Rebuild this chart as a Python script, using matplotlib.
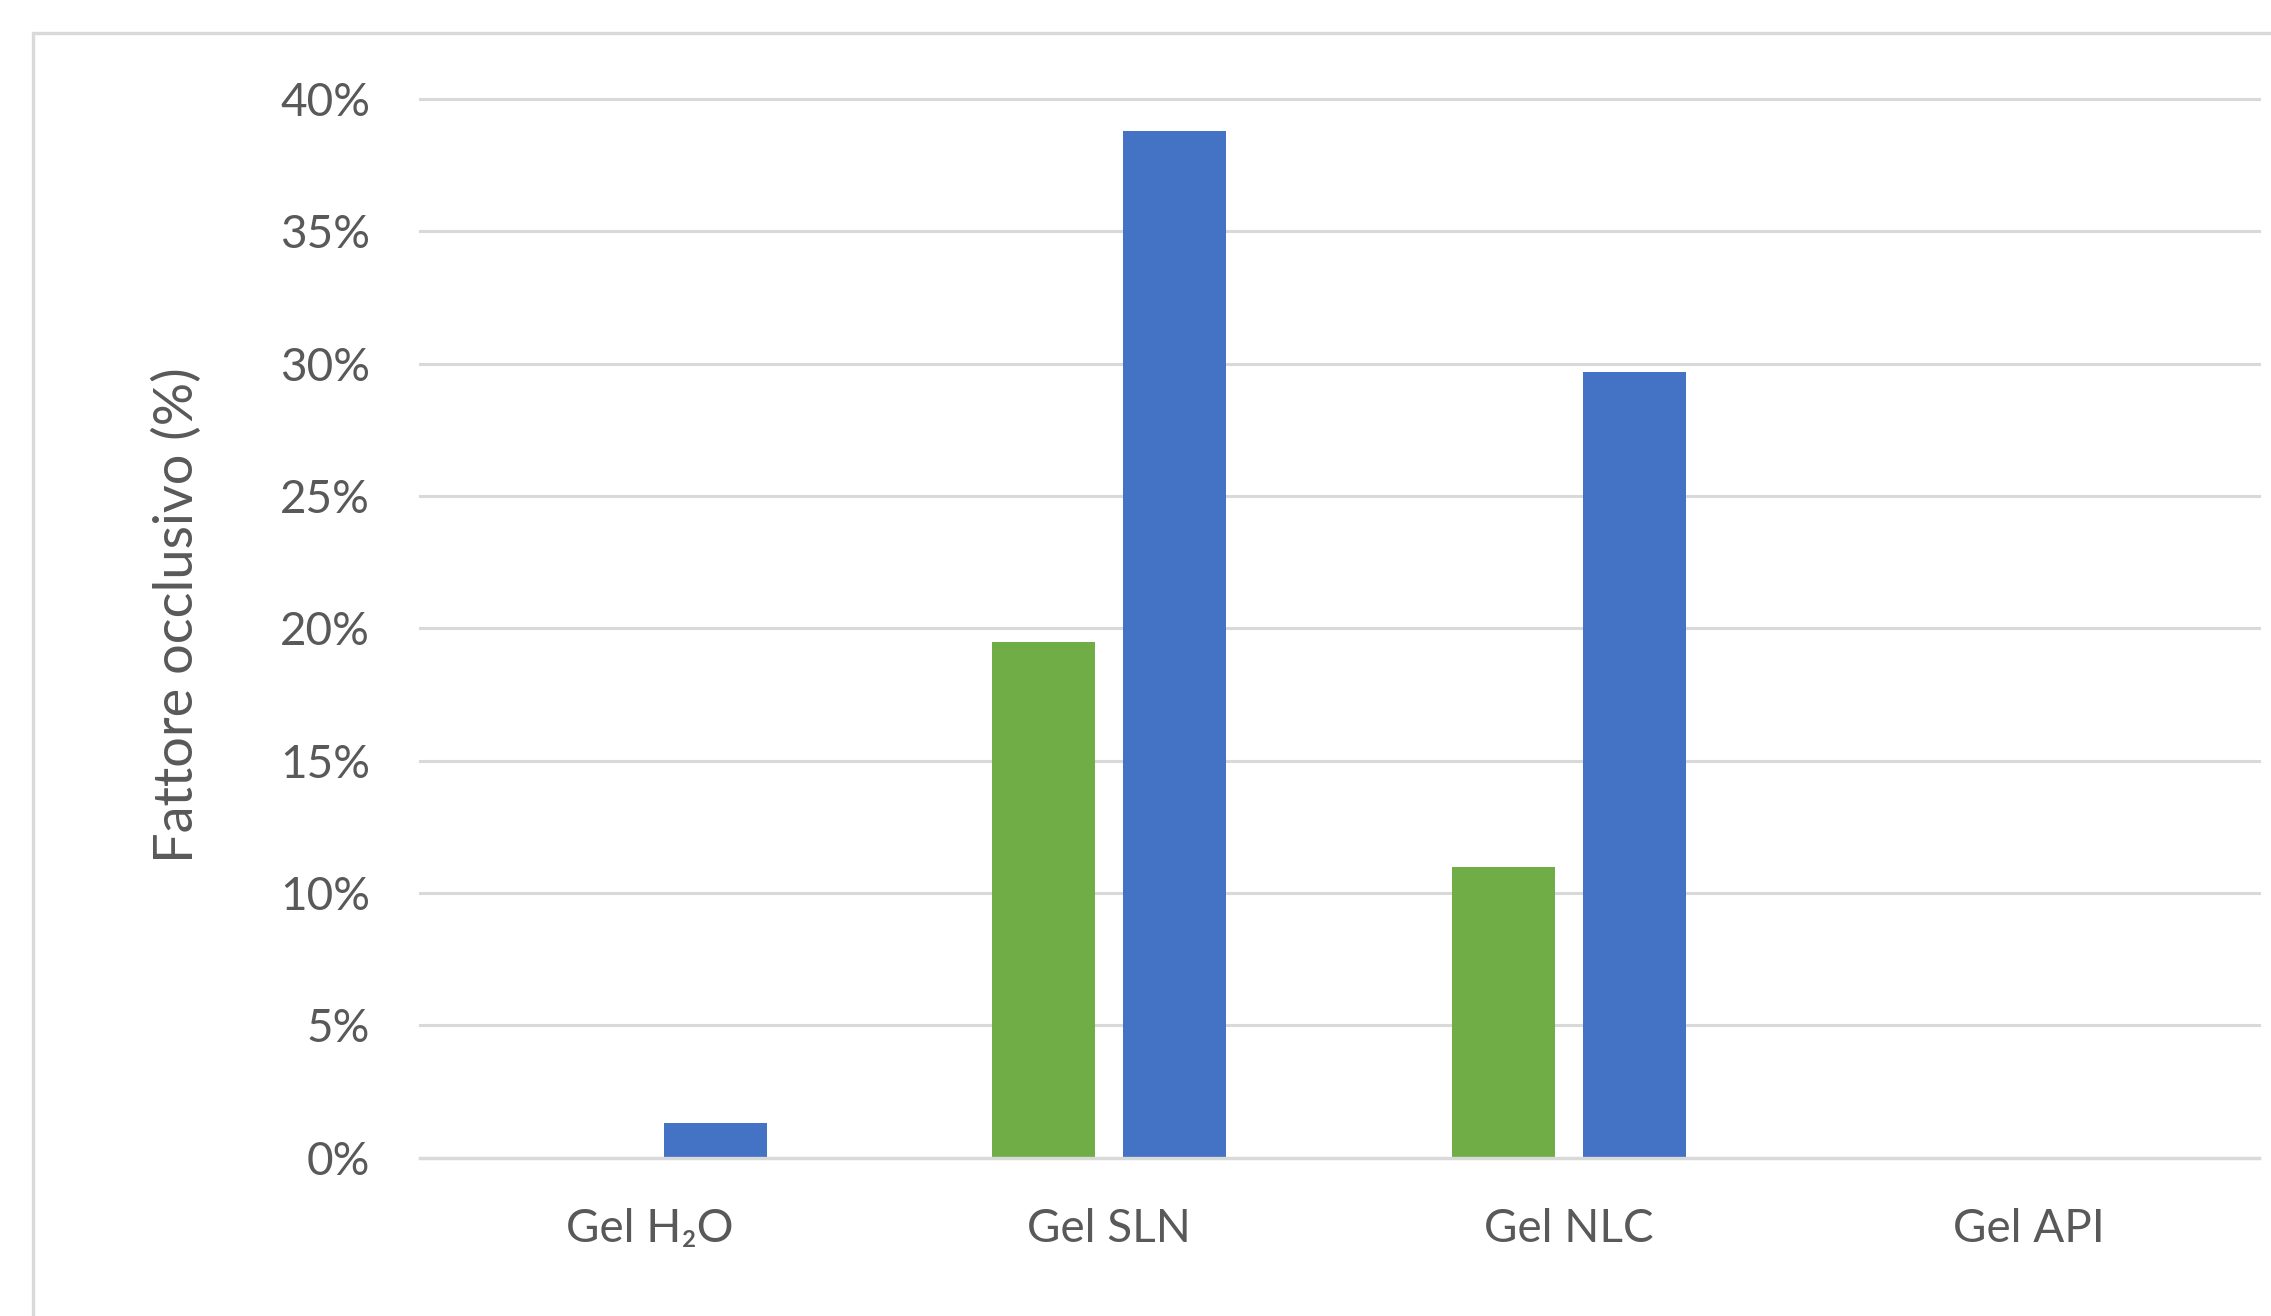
import matplotlib
matplotlib.use("Agg")
import matplotlib.pyplot as plt
from matplotlib.patches import Rectangle
from matplotlib.ticker import PercentFormatter
import numpy as np

# Occlusion factor per gel formulation (percent)
categories = ["Gel H\u2082O", "Gel SLN", "Gel NLC", "Gel API"]
green_values = [0.0, 19.5, 11.0, 0.0]
blue_values = [1.3, 38.8, 29.7, 0.0]
y_ticks = [0, 5, 10, 15, 20, 25, 30, 35, 40]

plt.rcParams['font.family'] = ['Lato', 'DejaVu Sans']

TEXT = '#595959'
GRID = '#D9D9D9'
W, H = 2271, 1316

fig = plt.figure(figsize=(W / 100, H / 100), dpi=100)
fig.patch.set_facecolor('white')

# plot area in pixel terms
left, right, top, bottom = 419.5, 2258.7, 99.0, 1157.7
ax = fig.add_axes([left / W, 1 - bottom / H, (right - left) / W, (bottom - top) / H])

x = np.arange(len(categories))
width = 0.224
offset = 0.143
ax.bar(x - offset, green_values, width, color='#70AD47', zorder=3, linewidth=0)
ax.bar(x + offset, blue_values, width, color='#4472C4', zorder=3, linewidth=0)

ax.set_xlim(-0.5, len(categories) - 0.5)
ax.set_ylim(0, 40)
ax.set_yticks(y_ticks)
ax.yaxis.set_major_formatter(PercentFormatter(decimals=0))
ax.set_xticks(x)
ax.set_xticklabels(categories)

ax.grid(axis='y', color=GRID, linewidth=2.2, zorder=0)
for gl in ax.get_ygridlines():
    gl.set_clip_on(False)
ax.axhline(0, color=GRID, linewidth=2.4, zorder=4, clip_on=False)

for s in ax.spines.values():
    s.set_visible(False)
ax.tick_params(axis='both', length=0, labelsize=33, labelcolor=TEXT)
ax.tick_params(axis='y', pad=35.5)
ax.tick_params(axis='x', pad=36)

fig.text(177 / W, 1 - 615 / H, "Fattore occlusivo (%)", rotation=90,
         ha='center', va='center', fontsize=39, color=TEXT)

# chart-area border
fig.patches.append(Rectangle((33 / W, -0.2), 1.5, 1 - 33 / H + 0.2,
                             transform=fig.transFigure, fill=False,
                             edgecolor=GRID, linewidth=2.4, zorder=0))

fig.savefig("out.png", dpi=100, facecolor='white')
